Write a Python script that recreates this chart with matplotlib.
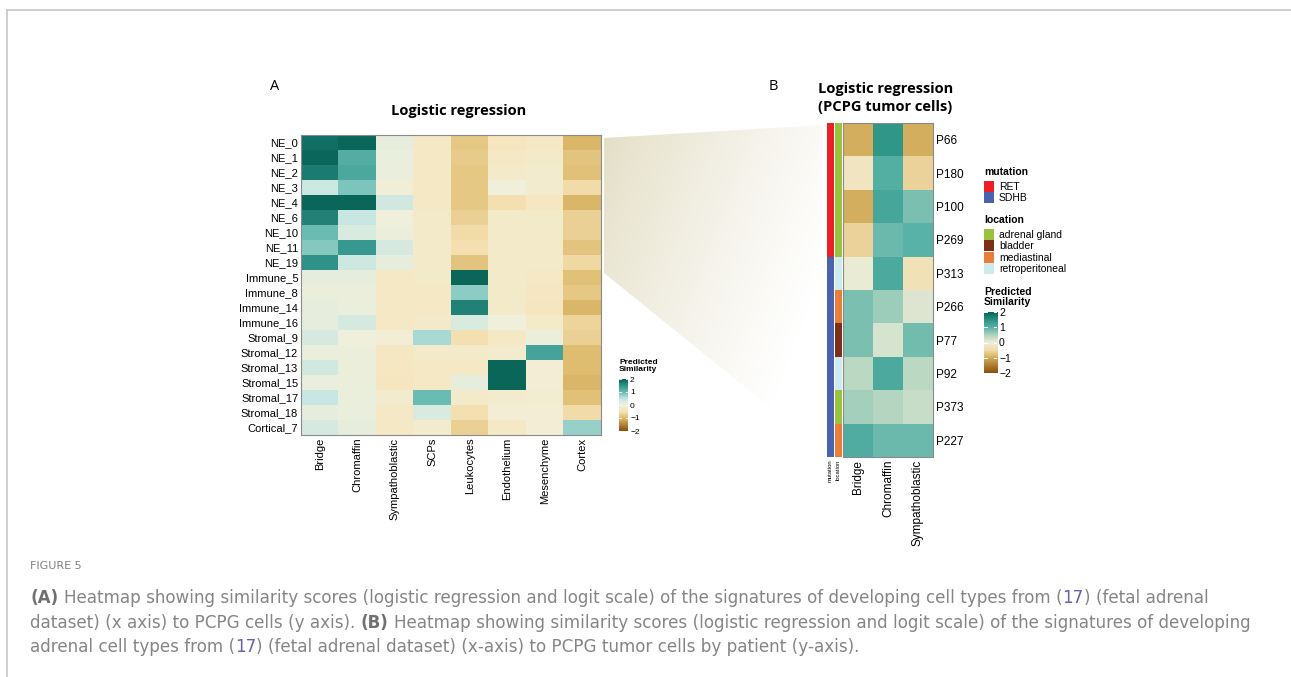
import matplotlib
matplotlib.use("Agg")
import matplotlib.pyplot as plt
from matplotlib.colors import LinearSegmentedColormap, to_rgb
from matplotlib.patches import Polygon, Rectangle
import numpy as np

W, H = 1291, 677

# ---- panel A data ----
cell_types_a = ["Bridge", "Chromaffin", "Sympathoblastic", "SCPs",
                "Leukocytes", "Endothelium", "Mesenchyme", "Cortex"]
clusters_a = ["NE_0", "NE_1", "NE_2", "NE_3", "NE_4", "NE_6", "NE_10", "NE_11",
              "NE_19", "Immune_5", "Immune_8", "Immune_14", "Immune_16",
              "Stromal_9", "Stromal_12", "Stromal_13", "Stromal_15",
              "Stromal_17", "Stromal_18", "Cortical_7"]
sim_a = np.array([
    [1.90, 2.00, 0.12, -0.30, -0.85, -0.40, -0.30, -1.05],
    [2.00, 1.20, 0.08, -0.30, -0.80, -0.30, -0.25, -0.90],
    [1.75, 1.25, 0.08, -0.30, -0.85, -0.25, -0.20, -0.95],
    [0.40, 0.90, -0.05, -0.30, -0.85, 0.00, -0.20, -0.60],
    [2.00, 2.00, 0.35, -0.30, -0.85, -0.55, -0.35, -1.05],
    [1.70, 0.45, 0.00, -0.25, -0.75, -0.25, -0.25, -0.75],
    [1.00, 0.25, 0.05, -0.25, -0.60, -0.25, -0.25, -0.75],
    [0.85, 1.45, 0.30, -0.25, -0.55, -0.25, -0.25, -0.90],
    [1.50, 0.40, 0.10, -0.25, -0.90, -0.25, -0.25, -0.65],
    [0.12, 0.12, -0.30, -0.25, 2.00, -0.25, -0.30, -0.95],
    [0.05, 0.05, -0.30, -0.30, 0.80, -0.25, -0.35, -0.85],
    [0.12, 0.08, -0.30, -0.30, 1.70, -0.25, -0.40, -1.05],
    [0.12, 0.30, -0.30, -0.25, 0.25, 0.00, -0.25, -0.70],
    [0.30, 0.00, -0.10, 0.65, -0.55, -0.30, 0.05, -0.75],
    [0.08, 0.05, -0.35, -0.25, -0.25, -0.20, 1.30, -1.00],
    [0.35, 0.05, -0.35, -0.30, -0.30, 2.00, -0.10, -1.00],
    [0.08, 0.05, -0.40, -0.30, 0.10, 2.00, -0.10, -1.05],
    [0.45, 0.08, -0.20, 1.00, -0.25, -0.20, -0.15, -0.95],
    [0.10, 0.08, -0.30, 0.25, -0.55, -0.10, -0.10, -0.60],
    [0.30, 0.10, -0.30, -0.20, -0.75, -0.30, -0.10, 0.75],
])

# ---- panel B data ----
patients = ["P66", "P180", "P100", "P269", "P313", "P266", "P77", "P92", "P373", "P227"]
cell_types_b = ["Bridge", "Chromaffin", "Sympathoblastic"]
sim_b = np.array([
    [-1.00, 1.45, -1.00],
    [-0.25, 1.05, -0.60],
    [-1.00, 1.20, 0.80],
    [-0.60, 0.90, 1.00],
    [0.05, 1.15, -0.35],
    [0.80, 0.60, 0.15],
    [0.80, 0.20, 0.85],
    [0.40, 1.15, 0.40],
    [0.55, 0.45, 0.30],
    [1.10, 0.90, 0.90],
])
mutation = ["RET", "RET", "RET", "RET", "SDHB", "SDHB", "SDHB", "SDHB", "SDHB", "SDHB"]
location = ["adrenal gland", "adrenal gland", "adrenal gland", "adrenal gland",
            "retroperitoneal", "mediastinal", "bladder", "retroperitoneal",
            "adrenal gland", "mediastinal"]
mutation_colors = {"RET": "#ec1f26", "SDHB": "#4a62ae"}
location_colors = {"adrenal gland": "#9bc23d", "bladder": "#7b3118",
                   "mediastinal": "#e97d3a", "retroperitoneal": "#cdeaee"}
cbar_ticks = [2, 1, 0, -1, -2]

caption_lines = [
    [("(A)", "bold"), (" Heatmap showing similarity scores (logistic regression and logit scale) of the signatures of developing cell types from (", "normal"),
     ("17", "link"), (") (fetal adrenal", "normal")],
    [("dataset) (x axis) to PCPG cells (y axis).", "normal"), (" (B)", "bold"),
     (" Heatmap showing similarity scores (logistic regression and logit scale) of the signatures of developing", "normal")],
    [("adrenal cell types from (", "normal"), ("17", "link"),
     (") (fetal adrenal dataset) (x-axis) to PCPG tumor cells by patient (y-axis).", "normal")],
]


def box(x0, y0, x1, y1):
    return [x0 / W, 1 - y1 / H, (x1 - x0) / W, (y1 - y0) / H]


def make_cmap(stops):
    lo, hi = stops[0][0], stops[-1][0]
    return LinearSegmentedColormap.from_list(
        "sim", [((v - lo) / (hi - lo), c) for v, c in stops])


cmap_a = make_cmap([(-2, "#8c510a"), (-1, "#dfbd70"), (-0.5, "#f6e4b8"), (0, "#f1f0dc"),
                    (0.5, "#c4e6e3"), (1, "#6cbdb3"), (1.5, "#31948a"), (2, "#0a6659")])
cmap_b = make_cmap([(-2, "#8c510a"), (-1, "#d3ae5e"), (-0.5, "#f2dcaa"), (0, "#f1eed8"),
                    (0.5, "#aed3bf"), (1, "#5ab3a8"), (1.5, "#2c9485"), (2, "#04675b")])

LAB = "Liberation Sans"
TITLE = "Open Sans"

fig = plt.figure(figsize=(W / 100, H / 100), dpi=100)

# background layer in pixel coordinates: frame + zoom wedge
bg = fig.add_axes([0, 0, 1, 1], zorder=0)
bg.set_xlim(0, W)
bg.set_ylim(H, 0)
bg.axis("off")
bg.plot([7, W], [10, 10], color="#cccccc", lw=1.3)
bg.plot([7, 7], [10, H], color="#cccccc", lw=1.3)

wedge = Polygon([(604, 138), (823, 125), (823, 450), (604, 273)], closed=True,
                facecolor="none", edgecolor="none")
bg.add_patch(wedge)
gx = np.linspace(0, 1, 200)
gy = np.linspace(0, 1, 200)
u, v = np.meshgrid(gx, gy)
t = np.clip(0.8 * u + 0.45 * v, 0, 1) ** 0.8
beige = np.array(to_rgb("#e2ddc3"))
grad = beige[None, None, :] * (1 - t[..., None]) + t[..., None]
im = bg.imshow(grad, extent=[604, 823, 450, 125], aspect="auto", zorder=1)
im.set_clip_path(wedge)
bg.set_xlim(0, W)
bg.set_ylim(H, 0)

# ---- panel A ----
axa = fig.add_axes(box(301, 135, 601, 435), zorder=2)
axa.imshow(sim_a, cmap=cmap_a, vmin=-2, vmax=2, aspect="auto", interpolation="nearest")
axa.set_xticks(range(len(cell_types_a)))
axa.set_xticklabels(cell_types_a, rotation=90, fontsize=8, family=LAB)
axa.set_yticks(range(len(clusters_a)))
axa.set_yticklabels(clusters_a, fontsize=8, family=LAB)
axa.tick_params(length=0, pad=2)
for s in axa.spines.values():
    s.set_color("#8a8a8a")
    s.set_linewidth(0.8)
fig.text(459 / W, 1 - 111 / H, "Logistic regression", ha="center", va="center",
         fontsize=10.5, fontweight="bold", family=TITLE)
fig.text(275 / W, 1 - 87 / H, "A", ha="center", va="center", fontsize=10.5, family=TITLE)

# colorbar A
cba = fig.add_axes(box(619, 379, 628, 431), zorder=2)
grad_v = np.linspace(2, -2, 100)[:, None]
cba.imshow(grad_v, cmap=cmap_a, vmin=-2, vmax=2, aspect="auto",
           extent=[0, 1, -2, 2])
cba.set_xticks([])
cba.yaxis.tick_right()
cba.set_yticks(cbar_ticks)
cba.set_yticklabels([str(k).replace("-", "\u2212") for k in cbar_ticks],
                    fontsize=6, family=LAB)
cba.tick_params(length=0, pad=1.5)
for k in cbar_ticks:
    cba.plot([0, 0.2], [k, k], color="white", lw=0.6)
    cba.plot([0.8, 1], [k, k], color="white", lw=0.6)
cba.set_xlim(0, 1)
cba.set_ylim(-2, 2)
for s in cba.spines.values():
    s.set_visible(False)
fig.text(619 / W, 1 - 366 / H, "Predicted\nSimilarity", ha="left", va="center",
         fontsize=6, fontweight="bold", family=LAB, linespacing=1.0)

# ---- panel B ----
axb = fig.add_axes(box(843, 123, 933, 457), zorder=2)
axb.imshow(sim_b, cmap=cmap_b, vmin=-2, vmax=2, aspect="auto", interpolation="nearest")
axb.set_xticks(range(len(cell_types_b)))
axb.set_xticklabels(cell_types_b, rotation=90, fontsize=8.5, family=LAB)
axb.yaxis.tick_right()
axb.set_yticks(range(len(patients)))
axb.set_yticklabels(patients, fontsize=8.5, family=LAB)
axb.tick_params(length=0, pad=2)
for s in axb.spines.values():
    s.set_color("#8a8a8a")
    s.set_linewidth(0.8)

for name, cats, cmap_dict, x0, x1 in [("mutation", mutation, mutation_colors, 827, 833.5),
                                      ("location", location, location_colors, 835, 841.5)]:
    ax = fig.add_axes(box(x0, 123, x1, 457), zorder=2)
    rgb = np.array([[to_rgb(cmap_dict[c])] for c in cats])
    ax.imshow(rgb, aspect="auto", interpolation="nearest")
    ax.set_yticks([])
    ax.set_xticks([0])
    ax.set_xticklabels([name], rotation=90, fontsize=4.2, family=LAB)
    ax.tick_params(length=0, pad=2)
    for s in ax.spines.values():
        s.set_visible(False)

fig.text(818 / W, 1 - 98 / H, "Logistic regression\n(PCPG tumor cells)", ha="left",
         va="center", fontsize=10.5, fontweight="bold", family=TITLE, linespacing=1.35)
fig.text(773 / W, 1 - 87 / H, "B", ha="center", va="center", fontsize=10.5, family=TITLE)

# legends for panel B
leg = fig.add_axes([0, 0, 1, 1], zorder=3)
leg.set_xlim(0, W)
leg.set_ylim(H, 0)
leg.axis("off")
y = 172
for title, cats, cdict in [("mutation", ["RET", "SDHB"], mutation_colors),
                           ("location", list(location_colors.keys()), location_colors)]:
    leg.text(984, y, title, ha="left", va="center", fontsize=7.5,
             fontweight="bold", family=LAB)
    y += 9
    for c in cats:
        leg.add_patch(Rectangle((984, y), 10, 11, facecolor=cdict[c], edgecolor="none"))
        leg.text(999, y + 5.8, c, ha="left", va="center", fontsize=7.5, family=LAB)
        y += 11.3
    y += 16.5

fig.text(984 / W, 1 - 297 / H, "Predicted\nSimilarity", ha="left", va="center",
         fontsize=7.5, fontweight="bold", family=LAB, linespacing=1.0)
cbb = fig.add_axes(box(984, 312, 997, 373), zorder=2)
cbb.imshow(grad_v, cmap=cmap_b, vmin=-2, vmax=2, aspect="auto", extent=[0, 1, -2, 2])
cbb.set_xticks([])
cbb.yaxis.tick_right()
cbb.set_yticks(cbar_ticks)
cbb.set_yticklabels([str(k).replace("-", "\u2212") for k in cbar_ticks],
                    fontsize=7.5, family=LAB)
cbb.tick_params(length=0, pad=1.5)
for k in cbar_ticks:
    cbb.plot([0, 0.2], [k, k], color="white", lw=0.7)
    cbb.plot([0.8, 1], [k, k], color="white", lw=0.7)
cbb.set_xlim(0, 1)
cbb.set_ylim(-2, 2)
for s in cbb.spines.values():
    s.set_visible(False)

# ---- caption ----
renderer = fig.canvas.get_renderer()
CAP = "DejaVu Sans"
styles = {"normal": dict(color="#858585", fontweight="normal"),
          "bold": dict(color="#707070", fontweight="bold"),
          "link": dict(color="#6a5fb0", fontweight="normal")}


def text_w(s, size, **kw):
    t = leg.text(0, 0, s, fontsize=size, family=CAP, **kw)
    w = t.get_window_extent(renderer).width
    t.remove()
    return w


def line_width(runs, size):
    sp = text_w("x x", size) - text_w("xx", size)
    total = 0
    for txt, st in runs:
        total += (len(txt) - len(txt.lstrip(" "))) * sp
        total += text_w(txt.strip(" "), size, **styles[st])
    return total


# fit the caption size so the first line ends where it does in the figure
base = 10.0
cap_size = base * (1207 - 30) / line_width(caption_lines[0], base)
space_w = text_w("x x", cap_size) - text_w("xx", cap_size)

leg.text(30, 566, "FIGURE 5", ha="left", va="center", fontsize=8, family=CAP, color="#808080")
for i, runs in enumerate(caption_lines):
    x = 30
    yb = 603 + 24.5 * i
    for txt, st in runs:
        x += (len(txt) - len(txt.lstrip(" "))) * space_w
        body = txt.strip(" ")
        t = leg.text(x, yb, body, ha="left", va="baseline", fontsize=cap_size,
                     family=CAP, **styles[st])
        x += t.get_window_extent(renderer).width

fig.savefig("out.png", dpi=100)
